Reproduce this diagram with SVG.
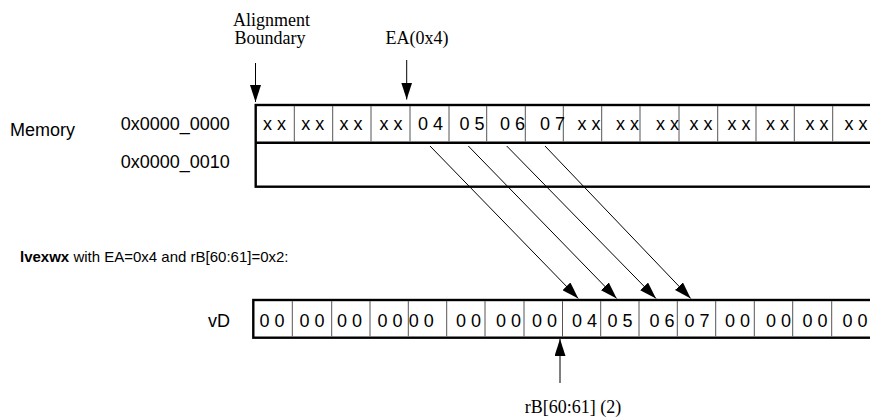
<svg xmlns="http://www.w3.org/2000/svg" width="870" height="419" viewBox="0 0 870 419">
  <style>
    .sans{font-family:"Liberation Sans",Arial,Helvetica,sans-serif;fill:#000}
    .serif{font-family:"Liberation Serif","Times New Roman",serif;font-size:18px;fill:#000;text-anchor:middle}
    .lbl{font-size:18px}
    .cell{font-size:18px}
    .frame{fill:none;stroke:#000;stroke-width:2.4}
    .rule{stroke:#000;stroke-width:2.4}
    .div{stroke:#555;stroke-width:1}
    .conn{stroke:#000;stroke-width:1;fill:none;marker-end:url(#ah)}
  </style>
  <defs>
    <marker id="ah" markerUnits="userSpaceOnUse" markerWidth="17" markerHeight="11" refX="17" refY="5.5" orient="auto">
      <path d="M0,0 L17,5.5 L0,11 Z" fill="#000"/>
    </marker>
  </defs>
  <rect width="870" height="419" fill="#fff"/>

  <!-- side labels -->
  <g id="labels" class="sans lbl">
    <text x="10" y="136">Memory</text>
    <text x="120.7" y="130">0x0000_0000</text>
    <text x="120.7" y="168.3">0x0000_0010</text>
    <text x="208" y="326.7">vD</text>
    <text x="20" y="261.7" style="font-size:15px"><tspan font-weight="bold">lvexwx</tspan> with EA=0x4 and rB[60:61]=0x2:</text>
  </g>

  <g id="alignment-label">
    <text class="serif" x="271.5" y="25.7">Alignment</text>
    <text class="serif" x="270" y="44.3">Boundary</text>
  </g>
  <g id="ea-label">
    <text class="serif" x="417" y="43.5">EA(0x4)</text>
  </g>
  <g id="rb-label">
    <text class="serif" x="573" y="412.5">rB[60:61] (2)</text>
  </g>

  <!-- memory: two 16-byte rows -->
  <g id="memory">
    <rect class="frame" x="255.7" y="105" width="625" height="81.7"/>
    <line class="rule" x1="255.7" y1="142.7" x2="880" y2="142.7"/>
    <g class="div">
      <line x1="294.3" y1="106" x2="294.3" y2="141.5"/>
      <line x1="332.7" y1="106" x2="332.7" y2="141.5"/>
      <line x1="371" y1="106" x2="371" y2="141.5"/>
      <line x1="410" y1="106" x2="410" y2="141.5"/>
      <line x1="449" y1="106" x2="449" y2="141.5"/>
      <line x1="486.7" y1="106" x2="486.7" y2="141.5"/>
      <line x1="525.3" y1="106" x2="525.3" y2="141.5"/>
      <line x1="563.3" y1="106" x2="563.3" y2="141.5"/>
      <line x1="601.7" y1="106" x2="601.7" y2="141.5"/>
      <line x1="640" y1="106" x2="640" y2="141.5"/>
      <line x1="679" y1="106" x2="679" y2="141.5"/>
      <line x1="717.7" y1="106" x2="717.7" y2="141.5"/>
      <line x1="756" y1="106" x2="756" y2="141.5"/>
      <line x1="794.3" y1="106" x2="794.3" y2="141.5"/>
      <line x1="832.7" y1="106" x2="832.7" y2="141.5"/>
    </g>
    <g class="sans cell">
      <text x="263" y="130">x x</text>
      <text x="301.3" y="130">x x</text>
      <text x="339.5" y="130">x x</text>
      <text x="379.5" y="130">x x</text>
      <text x="418" y="130">0 4</text>
      <text x="459.5" y="130">0 5</text>
      <text x="500" y="130">0 6</text>
      <text x="540" y="130">0 7</text>
      <text x="577.5" y="130">x x</text>
      <text x="616" y="130">x x</text>
      <text x="656" y="130">x x</text>
      <text x="689.5" y="130">x x</text>
      <text x="727.5" y="130">x x</text>
      <text x="766" y="130">x x</text>
      <text x="805.5" y="130">x x</text>
      <text x="844.5" y="130">x x</text>
    </g>
  </g>

  <!-- destination vector register -->
  <g id="vD">
    <rect class="frame" x="253.3" y="300" width="630" height="37.7"/>
    <g class="div">
      <line x1="292.3" y1="301" x2="292.3" y2="336.5"/>
      <line x1="331.7" y1="301" x2="331.7" y2="336.5"/>
      <line x1="370" y1="301" x2="370" y2="336.5"/>
      <line x1="408.3" y1="301" x2="408.3" y2="336.5"/>
      <line x1="446.7" y1="301" x2="446.7" y2="336.5"/>
      <line x1="485" y1="301" x2="485" y2="336.5"/>
      <line x1="524" y1="301" x2="524" y2="336.5"/>
      <line x1="562.5" y1="301" x2="562.5" y2="336.5"/>
      <line x1="600.7" y1="301" x2="600.7" y2="336.5"/>
      <line x1="639" y1="301" x2="639" y2="336.5"/>
      <line x1="677.3" y1="301" x2="677.3" y2="336.5"/>
      <line x1="715.7" y1="301" x2="715.7" y2="336.5"/>
      <line x1="754.3" y1="301" x2="754.3" y2="336.5"/>
      <line x1="792.7" y1="301" x2="792.7" y2="336.5"/>
      <line x1="831.7" y1="301" x2="831.7" y2="336.5"/>
    </g>
    <g class="sans cell">
      <text x="259.5" y="327">0 0</text>
      <text x="299.5" y="327">0 0</text>
      <text x="337" y="327">0 0</text>
      <text x="377.5" y="327">0 0</text>
      <text x="408.8" y="327">0 0</text>
      <text x="456" y="327">0 0</text>
      <text x="496" y="327">0 0</text>
      <text x="532" y="327">0 0</text>
      <text x="572" y="327">0 4</text>
      <text x="607.5" y="327">0 5</text>
      <text x="649.5" y="327">0 6</text>
      <text x="684.5" y="327">0 7</text>
      <text x="725" y="327">0 0</text>
      <text x="766" y="327">0 0</text>
      <text x="802.5" y="327">0 0</text>
      <text x="842.5" y="327">0 0</text>
    </g>
  </g>

  <!-- connectors -->
  <g id="connectors">
    <path class="conn" d="M255.5,63 V102"/>
    <path class="conn" d="M406.7,60 V99.5"/>
    <path class="conn" d="M560,383 V339"/>
    <path class="conn" d="M430,146 L578.3,298.5"/>
    <path class="conn" d="M468.3,146 L616.7,298.5"/>
    <path class="conn" d="M506.7,146 L656,298.5"/>
    <path class="conn" d="M545,146 L690.7,298.5"/>
  </g>
</svg>
